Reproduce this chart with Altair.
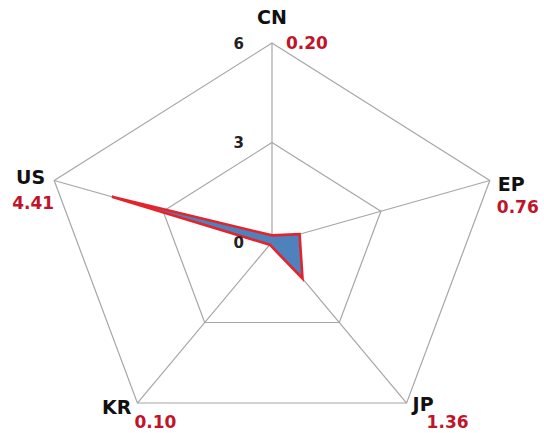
import altair as alt
import pandas as pd

# Radar chart: five offices, radial scale 0-6
categories = ["CN", "EP", "JP", "KR", "US"]
values = [0.20, 0.76, 1.36, 0.10, 4.41]
grid_levels = [3, 6]
tick_labels = [0, 3, 6]
r_max = 6

FONT = "DejaVu Sans"
GRID = "#a6a6a6"
FILL = "#4f81bd"
EDGE = "#e3242b"
VALUE_COLOR = "#c0142a"

W, H = 544, 433
x_dom = [-7.126, 7.126]
y_dom = [-5.758, 7.296]

xs = alt.Scale(domain=x_dom, nice=False, zero=False)
ys = alt.Scale(domain=y_dom, nice=False, zero=False)
X = lambda f: alt.X(f, type="quantitative", scale=xs, axis=None)
Y = lambda f: alt.Y(f, type="quantitative", scale=ys, axis=None)

n = len(categories)


def to_xy(chart, rfield):
    """Convert (idx, radius) to cartesian px/py, first spoke pointing up."""
    return chart.transform_calculate(
        ang=f"datum.idx * 2 * PI / {n}"
    ).transform_calculate(
        px=f"datum.{rfield} * sin(datum.ang)",
        py=f"datum.{rfield} * cos(datum.ang)",
    )


data = pd.DataFrame({"cat": categories, "value": values, "idx": list(range(n))})
data["label"] = [f"{v:.2f}" for v in values]

grid_df = pd.DataFrame(
    [{"level": lv, "idx": i} for lv in grid_levels for i in range(n)]
)

# Pentagon gridlines
grid = to_xy(alt.Chart(grid_df), "level").mark_line(
    interpolate="linear-closed", stroke=GRID, strokeWidth=1.2
).encode(x=X("px"), y=Y("py"), detail="level:N", order="idx:Q")

# Spokes from the centre to the outer ring
spoke_df = pd.DataFrame({"idx": list(range(n)), "rmax": [r_max] * n, "zero": [0] * n})
spokes = to_xy(alt.Chart(spoke_df), "rmax").mark_rule(
    stroke=GRID, strokeWidth=1.2
).encode(x=X("zero"), y=Y("zero"), x2="px:Q", y2="py:Q")

# Data polygon
shape = to_xy(alt.Chart(data), "value").mark_line(
    interpolate="linear-closed", fill=FILL, fillOpacity=1,
    stroke=EDGE, strokeWidth=2.6, strokeJoin="miter"
).encode(x=X("px"), y=Y("py"), order="idx:Q")

# Radial tick labels beside the CN spoke
tick_df = pd.DataFrame({"t": tick_labels, "zero": [0] * len(tick_labels)})
ticks = alt.Chart(tick_df).mark_text(
    font=FONT, fontWeight="bold", fontSize=15, color="#222222",
    align="right", baseline="middle", dx=-28, dy=1
).encode(x=X("zero"), y=Y("t"), text="t:Q")

# Category names and value labels at each outer vertex
name_offsets = {
    "CN": dict(align="center", dx=0, dy=-25),
    "EP": dict(align="left", dx=8, dy=4),
    "JP": dict(align="left", dx=6, dy=2),
    "KR": dict(align="right", dx=-6, dy=5),
    "US": dict(align="right", dx=-9, dy=-3),
}
value_offsets = {
    "CN": dict(align="left", dx=14, dy=1),
    "EP": dict(align="left", dx=7, dy=27),
    "JP": dict(align="left", dx=20, dy=20),
    "KR": dict(align="left", dx=-3, dy=20),
    "US": dict(align="right", dx=0, dy=23),
}

label_base = to_xy(
    alt.Chart(spoke_df.assign(cat=categories, label=data["label"])), "rmax"
)
texts = []
for c in categories:
    texts.append(
        label_base.transform_filter(alt.datum.cat == c).mark_text(
            font=FONT, fontWeight="bold", fontSize=19, color="#111111",
            baseline="middle", **name_offsets[c]
        ).encode(x=X("px"), y=Y("py"), text="cat:N")
    )
    texts.append(
        label_base.transform_filter(alt.datum.cat == c).mark_text(
            font=FONT, fontWeight="bold", fontSize=17, color=VALUE_COLOR,
            baseline="middle", **value_offsets[c]
        ).encode(x=X("px"), y=Y("py"), text="label:N")
    )

chart = alt.layer(grid, spokes, shape, ticks, *texts).properties(
    width=W, height=H, padding=0, autosize=alt.AutoSizeParams(type="none"),
    background="white",
).configure_view(stroke=None)

chart.save("out.html", embed_options={"renderer": "svg", "actions": False})
